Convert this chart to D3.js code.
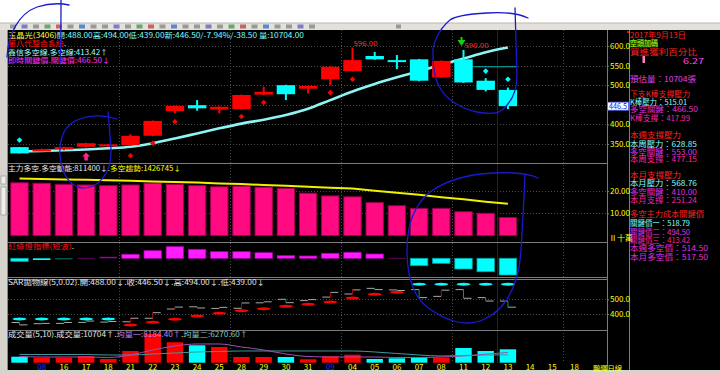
<!DOCTYPE html>
<html>
<head>
<meta charset="utf-8">
<script src="https://cdn.jsdelivr.net/npm/d3@7/dist/d3.min.js"></script>
<style>
body { margin: 0; background: #fff; overflow: hidden; }
svg { display: block; }
text { font-family: "Noto Sans CJK TC", "Noto Sans", sans-serif; }
</style>
</head>
<body>
<script>
// ---- data ----
var dateLabels = ["", "08", "16", "17", "18", "21", "22", "23", "24", "25", "28", "29", "30", "31", "09", "04", "05", "06", "07", "08", "11", "12", "13", "14", "15", "18"]
var monthIdx = [1, 14]
var weekStart = [5, 10, 15, 20, 25]

var openP  = [342, 334, 336, 343, 345, 347, 371, 434, 449, 438, 439, 476, 500, 491, 515, 536, 574.5, 564, 566, 520, 566, 511.5, 488]
var highP  = [342, 338, 343, 353, 350, 375, 410, 448, 462, 446, 476, 496, 501, 499, 548, 596, 585, 577, 567, 563, 590, 518, 494]
var lowP   = [326, 332, 334, 341, 344, 346, 370, 428, 435, 428, 438, 475, 462, 479, 500, 535, 565, 541, 510, 519, 506, 484, 439]
var closeP = [326, 336, 342, 352, 349, 371, 409, 447, 441, 445, 475, 483, 477, 498, 547, 564, 566, 560, 511.5, 562, 507, 488, 446.5]
var priceMA = [331, 332, 334, 336, 339, 343, 352, 364, 377, 390, 402, 412, 424, 440, 462, 484, 503, 520, 536, 552, 568, 584, 596]

var redDotIdx = [5, 6, 7, 10, 11, 14, 15]
var redDotVal = [320, 352, 407, 420, 456, 481, 515]
var cyanDotIdx = [0, 21, 22]
var cyanDotVal = [360, 536, 515]
var buyIdx = 3, sellIdx = 20
var highMarks = [15, 20]

var powerBars  = [23.7, 23.5, 23.0, 22.7, 22.4, 22.7, 23.5, 23.0, 22.4, 21.9, 22.2, 21.7, 21.2, 19.0, 17.8, 17.4, 14.8, 13.4, 12.2, 12.2, 10.7, 10.0, 8.114]
var powerTrend = [25.6, 25.4, 25.2, 25.1, 24.8, 24.6, 24.3, 24.0, 23.8, 23.4, 23.1, 22.7, 22.3, 21.9, 21.5, 21.1, 20.1, 19.2, 18.3, 17.2, 16.3, 15.2, 14.27]

var rgValues = [-3, -1.7, -1, 0.5, 1.5, 4, 7.6, 11.6, 9, 6.6, 6.6, 5.6, 2.6, 2.3, 5, 6, 4.3, 0.5, -7.4, -5, -10.7, -13.4, -16.7]

var sarValues = [366, 366, 366, 366, 366, 325, 344, 364, 386, 405, 422, 436, 452, 466, 482, 509, 534, 548, 602, 602, 602, 602, 602]

var volume  = [4800, 4000, 4000, 5360, 2960, 9360, 22960, 16320, 13920, 12560, 4560, 4560, 4560, 2720, 5120, 6400, 2960, 3520, 4320, 4000, 11760, 9360, 10704]
var volMA5  = [4960, 4560, 4560, 4560, 4160, 6160, 10160, 13360, 14960, 14960, 12560, 10160, 6960, 4960, 4560, 4560, 4560, 4160, 4160, 4560, 5360, 6800, 8184]
var volMA10 = [6560, 6560, 6560, 6560, 6160, 6160, 6960, 7760, 8560, 8960, 9360, 9360, 9360, 9360, 9360, 9360, 8560, 7360, 6160, 5360, 5760, 6160, 6270]

var lastPrice = 446.5

// ---- colours ----
var RED = "#ff0000", CYAN = "#00ffff", YELLOW = "#ffff00", GRID = "#4a4a4a", SEP = "#7c7c7c"

var idx = d3.range(openP.length)
var svg = d3.select("body").append("svg").attr("width", 720).attr("height", 374)

svg.append("rect").attr("width", 720).attr("height", 374).attr("fill", "#fff")

// toolbar strip
svg.append("rect").attr("x", 0).attr("y", 23).attr("width", 720).attr("height", 7).attr("fill", "#e4e1da")
svg.append("line").attr("x1", 0).attr("x2", 720).attr("y1", 23).attr("y2", 23).attr("stroke", "#b8b8b8")
var iconCols = ["#9a9a9a", "#7d7dc8", "#9a9a9a", "#6aa86a", "#c86464", "#9a9a9a", "#5a8ad0", "#9a9a9a"]
svg.append("g").selectAll("rect").data(d3.range(27)).enter().append("rect")
    .attr("x", function(k) { return 10 + k * 11.5 })
    .attr("y", 24.5)
    .attr("width", 6)
    .attr("height", 4)
    .attr("fill", function(k) { return iconCols[k % iconCols.length] })
svg.append("rect").attr("x", 396).attr("y", 24.5).attr("width", 5).attr("height", 4).attr("fill", "#9a9a9a")

// black chart body
svg.append("rect").attr("x", 0).attr("y", 30).attr("width", 720).attr("height", 340).attr("fill", "#000")
svg.append("rect").attr("x", 0).attr("y", 30).attr("width", 7).attr("height", 344).attr("fill", "#d6d3cc")
svg.append("line").attr("x1", 7.5).attr("x2", 7.5).attr("y1", 30).attr("y2", 370).attr("stroke", "#8a8a8a")
svg.append("rect").attr("x", 1).attr("y", 176).attr("width", 5).attr("height", 8).attr("fill", "#eee").attr("stroke", "#888").attr("stroke-width", 0.6)
svg.append("rect").attr("x", 1).attr("y", 187).attr("width", 5).attr("height", 28).attr("fill", "#eee").attr("stroke", "#888").attr("stroke-width", 0.6)
svg.append("rect").attr("x", 0).attr("y", 370).attr("width", 720).attr("height", 4).attr("fill", "#d6d3cc")

// ---- scales ----
var x = d3.scaleBand()
    .domain(d3.range(dateLabels.length))
    .range([8.4, 585.6])
    .paddingInner(0.17)
    .paddingOuter(0.085)
function xc(i) { return x(i) + x.bandwidth() / 2 }

var yMain = d3.scaleLinear().domain([350, 600]).range([144, 46])
var yPow  = d3.scaleLinear().domain([0, 20]).range([235.6, 191])
var yRG   = d3.scaleLinear().domain([0, 10]).range([258.3, 248.3])
var ySar  = d3.scaleLinear().domain([400, 500]).range([314, 299.3])
var yVol  = d3.scaleLinear().domain([0, 10704]).range([362.7, 349.3])

function up(i) { return closeP[i] >= openP[i] }
function kColor(i) { return up(i) ? RED : CYAN }

// ---- grid ----
var grid = svg.append("g")
function hGrid(scale, values) {
    grid.selectAll(null).data(values).enter().append("line")
        .attr("x1", 8).attr("x2", 607)
        .attr("y1", function(d) { return Math.round(scale(d)) + 0.5 })
        .attr("y2", function(d) { return Math.round(scale(d)) + 0.5 })
        .attr("stroke", GRID)
        .attr("stroke-dasharray", "1,2")
}
hGrid(yMain, [350, 400, 450, 500, 550, 600])
hGrid(yPow, [10, 20])
hGrid(ySar, [400, 500])

grid.selectAll(null).data(weekStart).enter().append("line")
    .attr("x1", function(i) { return Math.round(x(i) - x.step() * 0.085) + 0.5 })
    .attr("x2", function(i) { return Math.round(x(i) - x.step() * 0.085) + 0.5 })
    .attr("y1", 30).attr("y2", 363)
    .attr("stroke", GRID)
    .attr("stroke-dasharray", "1,2")

// cursor line
grid.append("line")
    .attr("x1", 497.5).attr("x2", 497.5).attr("y1", 30).attr("y2", 363)
    .attr("stroke", "#1c1c5a")

// panel separators
grid.selectAll(null).data([163, 242, 277, 279, 330]).enter().append("line")
    .attr("x1", 8).attr("x2", 607)
    .attr("y1", function(d) { return d + 0.5 })
    .attr("y2", function(d) { return d + 0.5 })
    .attr("stroke", SEP)
grid.append("line").attr("x1", 607.5).attr("x2", 607.5).attr("y1", 30).attr("y2", 370).attr("stroke", SEP)
grid.append("line").attr("x1", 629.5).attr("x2", 629.5).attr("y1", 30).attr("y2", 370).attr("stroke", SEP)

// ---- text helper ----
function line(g, xPos, yPos, parts, width, size) {
    var t = g.append("text")
        .attr("x", xPos)
        .attr("y", yPos)
        .style("font-size", (size || 7) + "px")
    parts.forEach(function(p) {
        t.append("tspan").attr("fill", p[1]).text(p[0])
    })
    if (width) t.attr("textLength", width).attr("lengthAdjust", "spacingAndGlyphs")
    return t
}

// ---- main candle panel ----
var main = svg.append("g")

main.append("line")
    .attr("x1", 474).attr("x2", 517)
    .attr("y1", yMain(547)).attr("y2", yMain(547))
    .attr("stroke", "#00b8b8")

main.append("path")
    .datum(idx)
    .attr("fill", "none")
    .attr("stroke", "#8ff4f4")
    .attr("stroke-width", 2.6)
    .attr("d", d3.line().x(function(i) { return xc(i) }).y(function(i) { return yMain(priceMA[i]) }).curve(d3.curveMonotoneX))

var candle = main.selectAll(".candle").data(idx).enter().append("g")
candle.append("line")
    .attr("x1", function(i) { return xc(i) })
    .attr("x2", function(i) { return xc(i) })
    .attr("y1", function(i) { return yMain(highP[i]) })
    .attr("y2", function(i) { return yMain(lowP[i]) })
    .attr("stroke", kColor)
    .attr("stroke-width", 2)
candle.append("rect")
    .attr("x", function(i) { return x(i) })
    .attr("width", x.bandwidth())
    .attr("y", function(i) { return yMain(Math.max(openP[i], closeP[i])) })
    .attr("height", function(i) { return Math.max(2, Math.abs(yMain(openP[i]) - yMain(closeP[i]))) })
    .attr("fill", kColor)

function diamond(cx, cy, r) {
    return "M" + cx + "," + (cy - r) + "L" + (cx + r) + "," + cy + "L" + cx + "," + (cy + r) + "L" + (cx - r) + "," + cy + "Z"
}
main.selectAll(".rd").data(redDotIdx).enter().append("path")
    .attr("d", function(i, k) { return diamond(xc(i), yMain(redDotVal[k]), 2.8) })
    .attr("fill", RED)
main.selectAll(".cd").data(cyanDotIdx).enter().append("path")
    .attr("d", function(i, k) { return diamond(xc(i), yMain(cyanDotVal[k]), 2.8) })
    .attr("fill", CYAN)

main.selectAll(".hl").data(highMarks).enter().append("text")
    .attr("x", function(i) { return xc(i) + 1 })
    .attr("y", function(i) { return yMain(highP[i]) - 1.5 })
    .attr("fill", "#ff3030")
    .style("font-size", "7px")
    .attr("textLength", 24)
    .attr("lengthAdjust", "spacingAndGlyphs")
    .text(function(i) { return highP[i].toFixed(2) })

// buy arrow
var bx = xc(buyIdx), by = yMain(lowP[buyIdx]) + 5
main.append("path")
    .attr("d", "M" + bx + "," + by + "l4,4h-2.2v4h-3.6v-4h-2.2z")
    .attr("fill", "#ff2090")
// sell arrow
var sx = xc(sellIdx) - 2, sy = yMain(highP[sellIdx]) - 4
main.append("path")
    .attr("d", "M" + sx + "," + sy + "l-4,-6h8z M" + (sx - 1) + "," + (sy - 6) + "v-3h2v3z")
    .attr("fill", "#10d010")

line(main, 8, 38, [["玉晶光(3406)", "#ffff40"], ["開:488.00高:494.00低:439.00新:446.50/-7.94%/-38.50 量:10704.00", "#80ffff"]], 296)
line(main, 8, 46, [["第八代整合系統", "#ff1010"], [".", YELLOW]], 58)
line(main, 8, 54.7, [["鑫信多空線.多空線:413.42↑", "#a0ffff"]], 100)
line(main, 8, 63, [["即時關鍵價.關鍵價:466.50↓", "#ff30ff"]], 102)

// ---- main power panel ----
var pow = svg.append("g")
pow.selectAll("rect").data(idx).enter().append("rect")
    .attr("x", function(i) { return x(i) + 0.5 })
    .attr("width", x.bandwidth() - 1)
    .attr("y", function(i) { return yPow(powerBars[i]) })
    .attr("height", function(i) { return yPow(0) - yPow(powerBars[i]) })
    .attr("fill", "#ff0a80")
    .attr("stroke", "#9a0050")
    .attr("stroke-width", 1)
pow.append("path")
    .datum(idx)
    .attr("fill", "none")
    .attr("stroke", "#f0f000")
    .attr("stroke-width", 2)
    .attr("d", d3.line().x(function(i) { return xc(i) }).y(function(i) { return yPow(powerTrend[i]) }))
line(pow, 8, 171, [["主力多空.多空動能:811400↓", "#e8e8e8"], [".多空趨勢:1426745↓", YELLOW]], 173)

// ---- red / green light panel ----
var rg = svg.append("g")
function rgFill(v) {
    if (v <= -1.5) return CYAN
    if (v < 0) return "#007878"
    if (v < 1) return "#600060"
    if (v < 2) return "#a000a0"
    return "#ff1cff"
}
rg.selectAll("rect").data(idx).enter().append("rect")
    .attr("x", function(i) { return x(i) + 0.5 })
    .attr("width", x.bandwidth() - 1)
    .attr("y", function(i) { return Math.min(yRG(0), yRG(rgValues[i])) })
    .attr("height", function(i) { return Math.max(1, Math.abs(yRG(rgValues[i]) - yRG(0))) })
    .attr("fill", function(i) { return rgFill(rgValues[i]) })
    .attr("stroke", function(i) { return Math.abs(rgValues[i]) > 2 ? (rgValues[i] > 0 ? "#b000b0" : "#00a0a0") : "none" })
    .attr("stroke-width", 0.8)
line(rg, 8, 249, [["紅綠燈指標(短波)", "#ff1010"], [".", YELLOW]], 66)

// ---- SAR panel ----
var sar = svg.append("g")
sar.selectAll(".st").data(idx).enter().append("path")
    .attr("d", function(i) {
        return "M" + (xc(i) - 8) + "," + ySar(openP[i]) + "H" + xc(i) + "M" + xc(i) + "," + ySar(closeP[i]) + "H" + (xc(i) + 8)
    })
    .attr("stroke", "#a8a8a8")
    .attr("fill", "none")
sar.selectAll(".sv").data(idx).enter().append("line")
    .attr("x1", function(i) { return xc(i) })
    .attr("x2", function(i) { return xc(i) })
    .attr("y1", function(i) { return ySar(openP[i]) })
    .attr("y2", function(i) { return ySar(closeP[i]) })
    .attr("stroke", function(i) { return up(i) ? "#c00000" : "#009090" })
sar.selectAll("ellipse").data(idx).enter().append("ellipse")
    .attr("cx", function(i) { return xc(i) })
    .attr("cy", function(i) { return ySar(sarValues[i]) })
    .attr("rx", 7)
    .attr("ry", 1.5)
    .attr("fill", function(i) { return sarValues[i] < closeP[i] ? RED : CYAN })
line(sar, 8, 285, [["SAR拋物線(5,0.02)", "#e8e8e8"], [".", YELLOW], ["開:488.00↓.收:446.50↓.高:494.00↓.低:439.00↓", "#e8e8e8"]], 257)

// ---- volume panel ----
var vol = svg.append("g")
vol.selectAll("rect").data(idx).enter().append("rect")
    .attr("x", function(i) { return x(i) + 1 })
    .attr("width", x.bandwidth() - 2)
    .attr("y", function(i) { return yVol(volume[i]) })
    .attr("height", function(i) { return yVol(0) - yVol(volume[i]) })
    .attr("fill", kColor)
vol.append("path")
    .datum(idx)
    .attr("fill", "none")
    .attr("stroke", "#3c9a9a")
    .attr("d", d3.line().x(function(i) { return xc(i) }).y(function(i) { return yVol(volMA10[i]) }).curve(d3.curveMonotoneX))
vol.append("path")
    .datum(idx)
    .attr("fill", "none")
    .attr("stroke", "#a050b0")
    .attr("d", d3.line().x(function(i) { return xc(i) }).y(function(i) { return yVol(volMA5[i]) }).curve(d3.curveMonotoneX))
line(vol, 8, 337, [["成交量(5,10)", "#e8e8e8"], [".", YELLOW], ["成交量:10704↑", "#e8e8e8"], [".", YELLOW],
    ["均量一:8184.40↑", "#c080ff"], [".", YELLOW], ["均量二:6270.60↑", "#80c8c8"]], 240)

// ---- axes ----
function styleAxis(g, color) {
    g.select(".domain").remove()
    g.selectAll("line").attr("stroke", SEP)
    g.selectAll("text").attr("fill", color).style("font-size", "8px")
}
svg.append("g")
    .attr("transform", "translate(607,0)")
    .call(d3.axisRight(yMain).tickValues([350, 400, 500, 550, 600]).tickFormat(d3.format(".1f")).tickSize(2).tickPadding(1))
    .call(styleAxis, YELLOW)
svg.append("g")
    .attr("transform", "translate(607,0)")
    .call(d3.axisRight(yPow).tickValues([10, 20]).tickFormat(d3.format(".2f")).tickSize(2).tickPadding(1))
    .call(styleAxis, YELLOW)
svg.append("g")
    .attr("transform", "translate(607,0)")
    .call(d3.axisRight(ySar).tickValues([400, 500]).tickFormat(d3.format(".1f")).tickSize(2).tickPadding(1))
    .call(styleAxis, YELLOW)
svg.append("text")
    .attr("x", 609).attr("y", 241)
    .attr("fill", YELLOW)
    .style("font-size", "8px")
    .text("Ⅱ十萬")

var xAxis = svg.append("g")
    .attr("transform", "translate(0,363)")
    .call(d3.axisBottom(x).tickFormat(function(i) { return dateLabels[i] }).tickSize(0).tickPadding(1))
xAxis.select(".domain").remove()
xAxis.selectAll("text")
    .style("font-size", "8px")
    .attr("fill", function(i) { return monthIdx.indexOf(i) >= 0 ? "#2030ff" : YELLOW })
svg.append("text")
    .attr("x", 593).attr("y", 371)
    .attr("fill", YELLOW)
    .style("font-size", "7px")
    .attr("textLength", 29)
    .attr("lengthAdjust", "spacingAndGlyphs")
    .text("鵬暉日線")

// last price tag
svg.append("rect")
    .attr("x", 607.5).attr("y", yMain(lastPrice) - 4)
    .attr("width", 21).attr("height", 8)
    .attr("fill", "#fff").attr("stroke", "#6060ff").attr("stroke-width", 0.8)
svg.append("text")
    .attr("x", 609).attr("y", yMain(lastPrice) + 3)
    .attr("fill", "#0010ff")
    .style("font-size", "8px")
    .attr("textLength", 18)
    .attr("lengthAdjust", "spacingAndGlyphs")
    .text(lastPrice.toFixed(1))

// ---- right info panel ----
var info = svg.append("g")
info.append("rect").attr("x", 627).attr("y", 31).attr("width", 2).attr("height", 2).attr("fill", RED)
info.append("rect").attr("x", 630).attr("y", 40).attr("width", 28).attr("height", 7.5).attr("fill", "#264400")
info.append("rect").attr("x", 642.5).attr("y", 56).attr("width", 2.5).attr("height", 7).attr("fill", "#ff80c0")
var infoLines = [
    ["2017年9月13日", "#ff2020", 38, 56],
    ["空頭加碼", "#a0ff20", 46.3, 28],
    ["買進獲利百分比", "#ff2020", 54.7, 67],
    ["預估量：10704張", "#e040ff", 82, 66],
    ["下支K棒支撐壓力", "#ff2020", 97.3, 60],
    ["K棒壓力：515.01", "#80ffff", 104.7, 57],
    ["多空關鍵：466.50", "#e030e0", 112.3, 68],
    ["K棒支撐：417.99", "#ff20a0", 121.3, 60],
    ["本週支撐壓力", "#ff2020", 138, 51],
    ["本周壓力：628.85", "#80ffff", 147, 67],
    ["多空關鍵：553.00", "#e030e0", 154.7, 67],
    ["本周支撐：477.15", "#ff20a0", 162.3, 67],
    ["本月支撐壓力", "#ff2020", 178, 51],
    ["本月壓力：568.76", "#80ffff", 186.3, 67],
    ["多空關鍵：410.00", "#e030e0", 194.7, 67],
    ["本月支撐：251.24", "#ff20a0", 203, 67],
    ["多空主力成本關鍵價", "#ff2020", 217.3, 74],
    ["關鍵價一：518.79", "#80ffff", 225.7, 60],
    ["關鍵價二：494.50", "#e030e0", 234.7, 60],
    ["關鍵價三：413.42", "#ff20a0", 243, 60],
    ["本週多空價：514.50", "#e030e0", 251.3, 78],
    ["本月多空價：517.50", "#e030e0", 259.7, 78]
]
infoLines.forEach(function(l) {
    line(info, 630, l[2], [[l[0], l[1]]], l[3], 7.5)
})
line(info, 683, 64, [["6.27", "#ff40ff"]], 21, 7.5)

// ---- hand-drawn ink marks ----
var ink = svg.append("g")
    .attr("fill", "none")
    .attr("stroke", "#1a1ad0")
    .attr("stroke-width", 1.3)
    .attr("stroke-linecap", "round")
ink.append("path").attr("d", "M7,57 C8,35 18,14 37,7 C50,3 60,3 69,5")
ink.append("path").attr("d", "M61,0 C61,20 61,45 60,64")
ink.append("path").attr("d", "M117,119 C100,113 75,115 65,130 C55,148 60,180 78,187 C98,192 112,172 111,150 C110,135 109,122 108,112")
ink.append("path").attr("d", "M528,18 C515,12 500,12 487,13 C470,14 455,16 450,20 C438,30 432,45 433,55 C433,70 435,80 440,88 C447,100 460,108 477,112 C487,114 497,114 502,110 C512,102 517,90 517,75 L515,8")
ink.append("path").attr("d", "M538,178 C530,174 515,172 493,173 C470,174 447,180 430,192 C414,205 407,225 407,250 C407,275 412,295 427,307 C442,318 455,323 467,323 C480,323 495,316 505,302 C515,288 520,270 521,250 C523,220 524,195 525,175")
</script>
</body>
</html>
